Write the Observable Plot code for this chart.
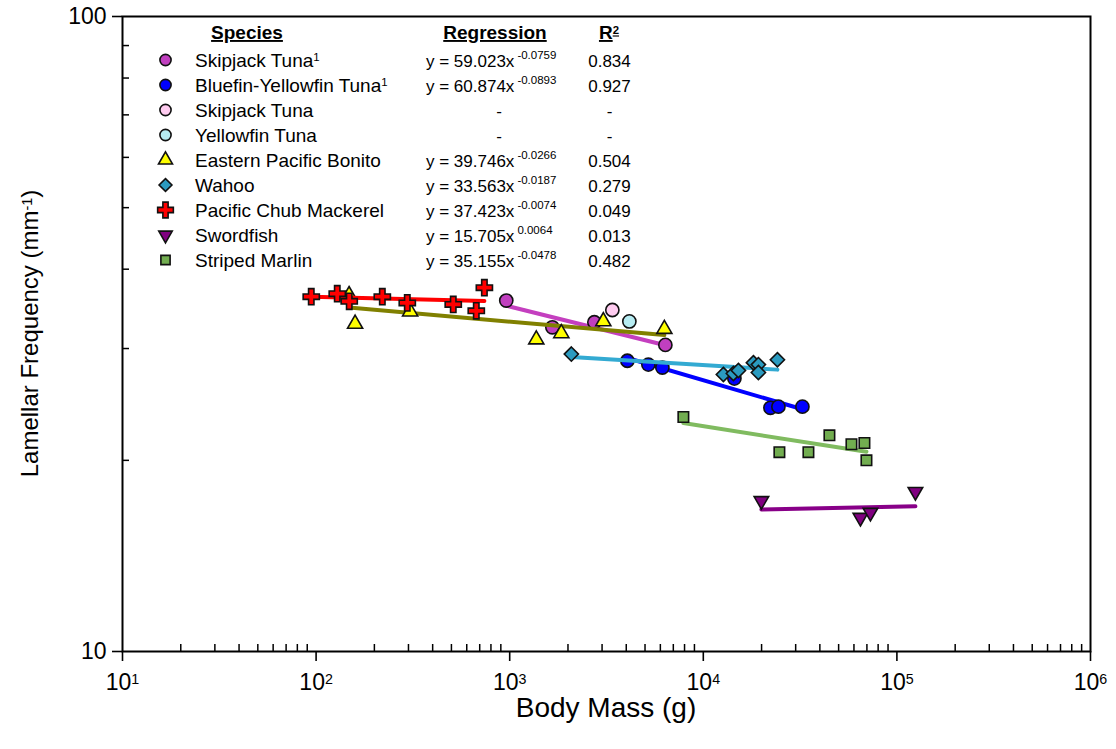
<!DOCTYPE html>
<html><head><meta charset="utf-8">
<script src="https://cdn.jsdelivr.net/npm/d3@7"></script>
<script src="https://cdn.jsdelivr.net/npm/@observablehq/plot@0.6"></script>
<style>
body{margin:0;background:#fff;}
svg{font-family:"Liberation Sans",Arial,sans-serif;}
</style>
</head><body><div id="chart"></div>
<script>
// ---- legend / table text ----
const speciesNames = ["Skipjack Tuna","Bluefin-Yellowfin Tuna","Skipjack Tuna","Yellowfin Tuna","Eastern Pacific Bonito","Wahoo","Pacific Chub Mackerel","Swordfish","Striped Marlin"];
const speciesNote = ["1","1","","","","","","",""];
const regA = [59.023, 60.874, null, null, 39.746, 33.563, 37.423, 15.705, 35.155];
const regB = [-0.0759, -0.0893, null, null, -0.0266, -0.0187, -0.0074, 0.0064, -0.0478];
const regALabels = ["59.023","60.874","","","39.746","33.563","37.423","15.705","35.155"];
const regBLabels = ["-0.0759","-0.0893","","","-0.0266","-0.0187","-0.0074","0.0064","-0.0478"];
const rSquared = ["0.834","0.927","-","-","0.504","0.279","0.049","0.013","0.482"];

// ---- data: body mass (g) and lamellar frequency (mm^-1) ----
const skipjack1Mass = [960, 1661, 2737, 6369];
const skipjack1Freq = [35.7, 32.4, 33.0, 30.4];
const bluefinYellowfinMass = [4053, 5203, 6146, 14474, 22218, 24434, 32508];
const bluefinYellowfinFreq = [28.7, 28.3, 28.0, 26.9, 24.2, 24.3, 24.3];
const skipjackMass = [3390];
const skipjackFreq = [34.5];
const yellowfinMass = [4150];
const yellowfinFreq = [33.1];
const bonitoMass = [148, 159, 306, 1372, 1848, 3045, 6293];
const bonitoFreq = [36.4, 32.8, 34.3, 31.0, 31.7, 33.1, 32.2];
const wahooMass = [2082, 12697, 14305, 15183, 18150, 19255, 19255, 24144];
const wahooFreq = [29.4, 27.3, 27.4, 27.7, 28.5, 28.3, 27.5, 28.8];
const mackerelMass = [94.4, 128.6, 148.3, 219.8, 295.8, 511, 672, 740];
const mackerelFreq = [36.2, 36.6, 35.6, 36.2, 35.4, 35.2, 34.4, 37.4];
const swordfishMass = [19956, 64780, 73010, 124650];
const swordfishFreq = [17.27, 16.25, 16.55, 17.85];
const marlinMass = [7891, 24720, 34914, 44820, 58240, 67970, 69620];
const marlinFreq = [23.4, 20.6, 20.6, 21.9, 21.2, 21.3, 20.0];

const massBySpecies = [skipjack1Mass, bluefinYellowfinMass, skipjackMass, yellowfinMass, bonitoMass, wahooMass, mackerelMass, swordfishMass, marlinMass];
const freqBySpecies = [skipjack1Freq, bluefinYellowfinFreq, skipjackFreq, yellowfinFreq, bonitoFreq, wahooFreq, mackerelFreq, swordfishFreq, marlinFreq];

// axis ticks
const majorX = [1e1, 1e2, 1e3, 1e4, 1e5, 1e6];
const majorY = [10, 100];

// ---- styles ----
const triangleDown = {
  draw(context, size) {
    const y = -Math.sqrt(size / (Math.sqrt(3) * 3));
    context.moveTo(0, -y * 2);
    context.lineTo(-Math.sqrt(3) * y, y);
    context.lineTo(Math.sqrt(3) * y, y);
    context.closePath();
  }
};
const fills = ["#c03fbf","#0000ff","#ffccf0","#b6ecf2","#ffff00","#2b9bc0","#ff0000","#800080","#72ad50"];
const lineColors = ["#c43fbf","#0000ff",null,null,"#808000","#33aad2","#ff0000","#880088","#80bb60"];
const symbols = ["circle","circle","circle","circle","triangle","diamond2","cross",triangleDown,"square"];
const radii = [6.6,6.6,6.6,6.6,5.6,6.4,6.8,5.4,5.9];
const legendRadii = [5.6,5.6,5.6,5.6,5.2,5.8,6.6,5.0,5.2];

// ---- build tables ----
const series = speciesNames.map((name, i) => ({
  i, name,
  points: massBySpecies[i].map((m, j) => ({mass: m, freq: freqBySpecies[i][j]})),
  fit: regA[i] == null ? null : d3.extent(massBySpecies[i]).map(m => ({mass: m, freq: regA[i] * Math.pow(m, regB[i])}))
}));

const minorX = [];
for (let e = 1; e < 6; e++) for (let k = 2; k <= 9; k++) minorX.push(k * 10 ** e);
const minorY = [];
for (let k = 2; k <= 9; k++) minorY.push(k * 10);

const W = 1116, H = 749;
const mL = 122, mR = 26, mT = 16, mB = 98;

const marks = [];
for (const s of series) {
  if (s.fit) marks.push(Plot.line(s.fit, {x: "mass", y: "freq", stroke: lineColors[s.i], strokeWidth: 4}));
  marks.push(Plot.dot(s.points, {x: "mass", y: "freq", symbol: symbols[s.i], r: radii[s.i], fill: fills[s.i], stroke: "#111", strokeWidth: 1.6}));
}
marks.push(
  Plot.tickX(minorX, {x: d => d, insetTop: (H - mT - mB) - 7, stroke: "#000", strokeWidth: 1.5}),
  Plot.tickY(minorY, {y: d => d, insetRight: (W - mL - mR) - 7, stroke: "#000", strokeWidth: 1.5}),
  Plot.axisX({ticks: majorX, tickSize: 10, tickPadding: 12, fontSize: 23, tickFormat: d => String(Math.round(Math.log10(d))), label: null, strokeWidth: 1.6, stroke: "#000", color: "#000"}),
  Plot.axisY({ticks: majorY, tickSize: 10, tickPadding: 6, fontSize: 23, tickFormat: d => String(d), label: null, strokeWidth: 1.6, stroke: "#000", color: "#000"}),
  Plot.frame({stroke: "#000", strokeWidth: 2})
);

const svg = Plot.plot({
  width: W, height: H,
  marginLeft: mL, marginRight: mR, marginTop: mT, marginBottom: mB,
  x: {type: "log", domain: [10, 1e6]},
  y: {type: "log", domain: [10, 100]},
  style: {fontFamily: '"Liberation Sans", Arial, sans-serif', color: "#000", background: "#fff"},
  marks
});
document.getElementById("chart").appendChild(svg);

const sel = d3.select(svg);

// superscript exponents on x tick labels
sel.selectAll('g[aria-label="x-axis tick label"] text').each(function() {
  const e = this.textContent;
  this.textContent = "10";
  d3.select(this).append("tspan").attr("dy", "-0.42em").attr("font-size", "0.62em").text(e);
});

// axis titles
sel.append("text").attr("x", (mL + W - mR) / 2).attr("y", 717).attr("text-anchor", "middle")
  .attr("font-size", 28).attr("fill", "#000").text("Body Mass (g)");
const yl = sel.append("text").attr("transform", `translate(38,${(mT + H - mB) / 2}) rotate(-90)`)
  .attr("text-anchor", "middle").attr("font-size", 24).attr("fill", "#000");
yl.append("tspan").text("Lamellar Frequency (mm");
yl.append("tspan").attr("dy", "-0.45em").attr("font-size", "0.6em").text("-1");
yl.append("tspan").attr("dy", "0.27em").text(")");

// legend table
const lg = sel.append("g").attr("font-size", 19).attr("fill", "#000").attr("text-anchor", "start");
const hdrY = 39;
lg.append("text").attr("x", 247).attr("y", hdrY).attr("text-anchor", "middle").attr("font-weight", "bold").attr("text-decoration", "underline").text("Species");
lg.append("text").attr("x", 495).attr("y", hdrY).attr("text-anchor", "middle").attr("font-weight", "bold").attr("text-decoration", "underline").text("Regression");
const r2h = lg.append("text").attr("x", 609).attr("y", hdrY).attr("text-anchor", "middle").attr("font-weight", "bold").attr("text-decoration", "underline");
r2h.append("tspan").text("R");
r2h.append("tspan").attr("dy", "-0.4em").attr("font-size", "0.6em").text("2");

const symMap = {circle: d3.symbolCircle, triangle: d3.symbolTriangle, diamond2: d3.symbolDiamond2, cross: d3.symbolCross, square: d3.symbolSquare};
speciesNames.forEach((name, i) => {
  const cy = 60 + 25 * i;
  const sym = typeof symbols[i] === "string" ? symMap[symbols[i]] : symbols[i];
  lg.append("path").attr("transform", `translate(165.5,${cy})`)
    .attr("d", d3.symbol(sym, Math.PI * legendRadii[i] ** 2)())
    .attr("fill", fills[i]).attr("stroke", "#111").attr("stroke-width", 1.6);
  const t = lg.append("text").attr("x", 195).attr("y", cy + 7).attr("text-anchor", "start");
  t.append("tspan").text(name);
  if (speciesNote[i]) t.append("tspan").attr("dy", "-0.55em").attr("font-size", "0.6em").text(speciesNote[i]);
  if (regA[i] == null) {
    lg.append("text").attr("x", 499).attr("y", cy + 7).attr("text-anchor", "middle").attr("font-size", 17).text("-");
  } else {
    const r = lg.append("text").attr("x", 426).attr("y", cy + 7).attr("text-anchor", "start").attr("font-size", 17);
    r.append("tspan").text(`y = ${regALabels[i]}x`);
    r.append("tspan").attr("dx", 3).attr("dy", -8).attr("font-size", 11.5).text(regBLabels[i]);
  }
  lg.append("text").attr("x", 609.5).attr("y", cy + 7).attr("text-anchor", "middle").attr("font-size", 17).text(rSquared[i]);
});
</script>
</body></html>
